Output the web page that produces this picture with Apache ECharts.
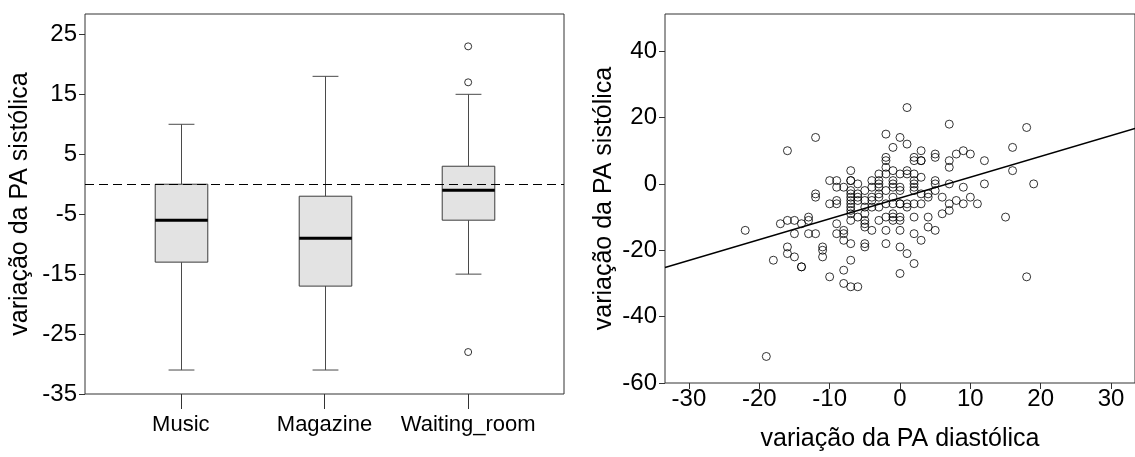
<!DOCTYPE html>
<html>
<head>
<meta charset="utf-8">
<script src="https://cdn.jsdelivr.net/npm/echarts@6/dist/echarts.min.js"></script>
<style>
  html, body { margin: 0; padding: 0; background: #fff; }
  #chart { width: 1135px; height: 457px; }
</style>
</head>
<body>
<div id="chart"></div>
<script>
// ---- Box plot: change in systolic BP by group ----
const groups = ['Music', 'Magazine', 'Waiting_room'];
const whiskerLow  = [-31, -31, -15];
const q1          = [-13, -17, -6];
const medians     = [-6, -9, -1];
const q3          = [0, -2, 3];
const whiskerHigh = [10, 18, 15];
const outlierGroup = [2, 2, 2];
const outlierValue = [23, 17, -28];
const boxTicks = [-35, -25, -15, -5, 5, 15, 25];

// ---- Scatter: change in diastolic vs systolic BP ----
const diastolic = [
  1, 7, 18, -2, 0, -12, 1, -1, 16, -16, 3, 9, 5, 8, 10,
  -2, 2, 5, -2, 2, 3, 3, 7, 12, -2, 7,
  -7, -1, 1, 16, -3, -2, 0, 1, 2, 3,
  -10, -9, -7, -7, -4, -3, -1, 2, 5,
  -6, -3, -1, 2, 5, 7, 12, 19,
  -9, -8, -4, -3, -1, 0, 2, 9,
  -2, 0, 2, 5, -7, -5,
  -7, -6, -12, -3, 3, 4,
  -12, -7, -6, -4, -3, -1, 4, 6, 10,
  -6, -5, -4, 8, -9, -7,
  -10, -9, -7, -2, -1, 0, 0, 1, 2, 3, 7, 9, 11,
  -7, -5, -4, -3, 1,
  -7, 7, -7, -5, 6, -1,
  -2, -1, 0, 2, 4, 15, -13, -6,
  -13, -7, -5, -3, -1, 0, -16, -15,
  -17, -14, -9, -5,
  -5, 4,
  -22, -8, -4, -2, 0, 5,
  -15, -13, -12, -9, -8, 2,
  -8, 3,
  -7, -2, -5, -5, -16, -11, -11, 0,
  -16, 1, -11, -15, -18, -7, 2, -14, -14,
  -10, 0, -8, 18, -8, -7, -6, -19
];
const systolic = [
  23, 18, 17, 15, 14, 14, 12, 11, 11, 10, 10, 10, 9, 9, 9,
  8, 8, 8, 7, 7, 7, 7, 7, 7, 5, 5,
  4, 4, 4, 4, 3, 3, 3, 3, 3, 2,
  1, 1, 1, 1, 1, 1, 1, 1, 1,
  0, 0, 0, 0, 0, 0, 0, 0,
  -1, -1, -1, -1, -1, -1, -1, -1,
  -2, -2, -2, -2, -2, -2,
  -3, -3, -3, -3, -3, -3,
  -4, -4, -4, -4, -4, -4, -4, -4, -4,
  -5, -5, -5, -5, -5, -5,
  -6, -6, -6, -6, -6, -6, -6, -6, -6, -6, -6, -6, -6,
  -7, -7, -7, -7, -7,
  -8, -8, -9, -9, -9, -9,
  -10, -10, -10, -10, -10, -10, -10, -10,
  -11, -11, -11, -11, -11, -11, -11, -11,
  -12, -12, -12, -12,
  -13, -13,
  -14, -14, -14, -14, -14, -14,
  -15, -15, -15, -15, -15, -15,
  -17, -17,
  -18, -18, -18, -19, -19, -19, -20, -19,
  -21, -21, -22, -22, -23, -23, -24, -25, -25,
  -28, -27, -26, -28, -30, -31, -31, -52
];
const scatterXTicks = [-30, -20, -10, 0, 10, 20, 30];
const scatterYTicks = [-60, -40, -20, 0, 20, 40];
// least-squares fit line: systolic = intercept + slope * diastolic
const fitIntercept = -4.26;
const fitSlope = 0.627;

const FONT = '"Liberation Sans", Arial, sans-serif';
const BOX_X_MIN = -0.667, BOX_X_MAX = 2.667;
const SC_X_MIN = -33.4, SC_X_MAX = 33.4;
const BOX_WIDTH = 0.366, CAP_WIDTH = 0.18;

const boxData = groups.map((g, i) => [i, whiskerLow[i], q1[i], medians[i], q3[i], whiskerHigh[i]]);
const outlierData = outlierGroup.map((g, i) => [g, outlierValue[i]]);
const scatterData = diastolic.map((x, i) => [x, systolic[i]]);
const fitData = [SC_X_MIN, SC_X_MAX].map(x => [x, fitIntercept + fitSlope * x]);

function renderBox(params, api) {
  const i = api.value(0);
  const lo = api.coord([i, api.value(1)]);
  const b1 = api.coord([i, api.value(2)]);
  const md = api.coord([i, api.value(3)]);
  const b3 = api.coord([i, api.value(4)]);
  const hi = api.coord([i, api.value(5)]);
  const bw = api.size([BOX_WIDTH, 0])[0];
  const cw = api.size([CAP_WIDTH, 0])[0];
  const x = Math.round(lo[0]) + 0.5;
  const wStyle = { stroke: '#4a4a4a', lineWidth: 1 };
  return {
    type: 'group',
    children: [
      { type: 'line', shape: { x1: x, y1: b3[1], x2: x, y2: hi[1] }, style: wStyle },
      { type: 'line', shape: { x1: x, y1: b1[1], x2: x, y2: lo[1] }, style: wStyle },
      { type: 'line', shape: { x1: x - cw / 2, y1: hi[1], x2: x + cw / 2, y2: hi[1] }, style: wStyle },
      { type: 'line', shape: { x1: x - cw / 2, y1: lo[1], x2: x + cw / 2, y2: lo[1] }, style: wStyle },
      { type: 'rect', shape: { x: x - bw / 2, y: b3[1], width: bw, height: b1[1] - b3[1] },
        style: { fill: '#e3e3e3', stroke: '#3c3c3c', lineWidth: 1 } },
      { type: 'line', shape: { x1: x - bw / 2, y1: md[1], x2: x + bw / 2, y2: md[1] },
        style: { stroke: '#000', lineWidth: 3 } }
    ]
  };
}

const tickStyle = { color: '#333', width: 1 };
const labelStyle = { color: '#000', fontFamily: FONT };
const hiddenLine = { show: false, onZero: false };

const option = {
  animation: false,
  textStyle: { fontFamily: FONT },
  grid: [
    { left: 85, top: 14, width: 479, height: 380, show: true, borderColor: '#333', borderWidth: 1, backgroundColor: 'transparent' },
    { left: 665, top: 14, width: 481, height: 370, show: true, borderColor: '#333', borderWidth: 1, backgroundColor: 'transparent' }
  ],
  xAxis: [
    {
      gridIndex: 0, type: 'value', min: BOX_X_MIN, max: BOX_X_MAX, position: 'bottom',
      axisLine: hiddenLine, splitLine: { show: false },
      axisTick: { show: true, length: 15, lineStyle: tickStyle, customValues: [0, 1, 2] },
      axisLabel: { ...labelStyle, fontSize: 22, margin: 20, customValues: [0, 1, 2],
        formatter: v => groups[Math.round(v)] }
    },
    {
      gridIndex: 1, type: 'value', min: SC_X_MIN, max: SC_X_MAX, position: 'bottom',
      axisLine: hiddenLine, splitLine: { show: false },
      axisTick: { show: true, length: 6, lineStyle: tickStyle, customValues: scatterXTicks },
      axisLabel: { ...labelStyle, fontSize: 24, margin: 4, customValues: scatterXTicks },
      name: 'variação da PA diastólica', nameLocation: 'middle', nameGap: 44,
      nameTextStyle: { ...labelStyle, fontSize: 25 }
    }
  ],
  yAxis: [
    {
      gridIndex: 0, type: 'value', min: -35, max: 28.4, position: 'left',
      axisLine: hiddenLine, splitLine: { show: false },
      axisTick: { show: true, length: 6, lineStyle: tickStyle, customValues: boxTicks },
      axisLabel: { ...labelStyle, fontSize: 24, margin: 8, customValues: boxTicks },
      name: 'variação da PA sistólica', nameLocation: 'middle', nameGap: 52,
      nameTextStyle: { ...labelStyle, fontSize: 25 }
    },
    {
      gridIndex: 1, type: 'value', min: -60, max: 51.2, position: 'left',
      axisLine: hiddenLine, splitLine: { show: false },
      axisTick: { show: true, length: 6, lineStyle: tickStyle, customValues: scatterYTicks },
      axisLabel: { ...labelStyle, fontSize: 24, margin: 8, customValues: scatterYTicks },
      name: 'variação da PA sistólica', nameLocation: 'middle', nameGap: 48,
      nameTextStyle: { ...labelStyle, fontSize: 25 }
    }
  ],
  series: [
    {
      type: 'custom', xAxisIndex: 0, yAxisIndex: 0,
      renderItem: renderBox, data: boxData, z: 2
    },
    {
      type: 'scatter', xAxisIndex: 0, yAxisIndex: 0, data: outlierData,
      symbol: 'circle', symbolSize: 7,
      itemStyle: { color: 'rgba(0,0,0,0)', borderColor: '#000', borderWidth: 1 },
      z: 3,
      markLine: {
        silent: true, symbol: ['none', 'none'], label: { show: false },
        lineStyle: { type: [9, 5], color: '#000', width: 1.2 },
        data: [{ yAxis: 0 }]
      }
    },
    {
      type: 'scatter', xAxisIndex: 1, yAxisIndex: 1, data: scatterData,
      symbol: 'circle', symbolSize: 8,
      itemStyle: { color: 'rgba(0,0,0,0)', borderColor: '#000', borderWidth: 1 }
    },
    {
      type: 'line', xAxisIndex: 1, yAxisIndex: 1, data: fitData,
      symbol: 'none', lineStyle: { color: '#000', width: 1.4 }, silent: true
    }
  ]
};

echarts.init(document.getElementById('chart'), null, { renderer: 'canvas' }).setOption(option);
</script>
</body>
</html>
